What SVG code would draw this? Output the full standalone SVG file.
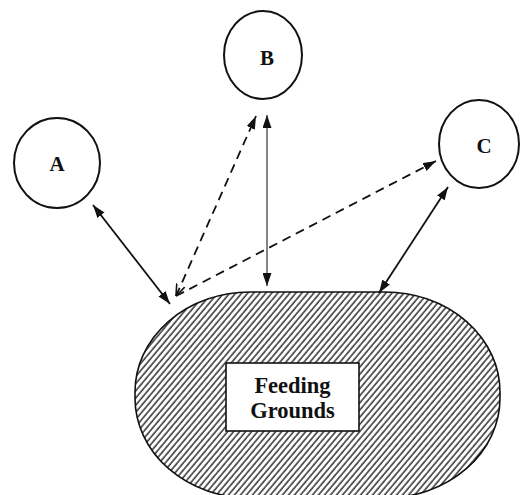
<svg xmlns="http://www.w3.org/2000/svg" width="522" height="495" viewBox="0 0 522 495">
<style>
.node{fill:#fff;stroke:#111;stroke-width:2}
.lbl{font-family:"Liberation Serif",serif;font-weight:bold;font-size:21px;fill:#111;text-anchor:middle}
.big{font-size:22.5px}
.sol{stroke:#111;stroke-width:1.8;fill:none}
.thin{stroke:#333;stroke-width:1.2;fill:none}
.dash{stroke:#111;stroke-width:1.8;fill:none;stroke-dasharray:9 6}
</style>
<defs>
<pattern id="hatch" width="4.6" height="4.6" patternUnits="userSpaceOnUse" patternTransform="rotate(40)">
<rect width="4.6" height="4.6" fill="#fff"/>
<line x1="1" y1="0" x2="1" y2="4.6" stroke="#111" stroke-width="1.3"/>
</pattern>
<marker id="ah" viewBox="0 0 13 9" refX="13" refY="4.5" markerWidth="13" markerHeight="9" markerUnits="userSpaceOnUse" orient="auto-start-reverse">
<path d="M0,0 L13,4.5 L0,9 Z" fill="#111"/>
</marker>
<marker id="oh" viewBox="0 0 12 10" refX="12" refY="5" markerWidth="12" markerHeight="10" markerUnits="userSpaceOnUse" orient="auto-start-reverse">
<path d="M0,0.5 L12,5 L0,9.5" fill="none" stroke="#111" stroke-width="1.6"/>
</marker>
</defs>
<g id="feeding-grounds">
<rect x="135" y="292" width="365" height="206" rx="115" ry="100" fill="url(#hatch)" stroke="#111" stroke-width="1.6"/>
<rect x="226" y="363" width="133" height="68" fill="#fff" stroke="#111" stroke-width="1.6"/>
<text class="lbl big" x="292.5" y="393">Feeding</text>
<text class="lbl big" x="292.5" y="418">Grounds</text>
</g>
<g id="A">
<ellipse class="node" cx="57" cy="163" rx="43" ry="45"/>
<text class="lbl" x="57" y="171">A</text>
</g>
<g id="B">
<ellipse class="node" cx="263" cy="55" rx="39" ry="44"/>
<text class="lbl" x="267" y="65">B</text>
</g>
<g id="C">
<ellipse class="node" cx="479" cy="144" rx="40" ry="44"/>
<text class="lbl" x="484" y="153">C</text>
</g>
<g id="connectors">
<line class="sol" x1="93" y1="205" x2="170" y2="304" marker-start="url(#ah)" marker-end="url(#ah)"/>
<line class="thin" x1="267" y1="115" x2="267" y2="286" marker-start="url(#ah)" marker-end="url(#ah)"/>
<line class="sol" x1="448" y1="187" x2="379" y2="293" marker-start="url(#ah)" marker-end="url(#ah)"/>
<line class="dash" x1="176" y1="296" x2="256" y2="116" marker-start="url(#oh)" marker-end="url(#ah)"/>
<line class="dash" x1="176" y1="296" x2="436" y2="161" marker-end="url(#ah)"/>
</g>
</svg>
